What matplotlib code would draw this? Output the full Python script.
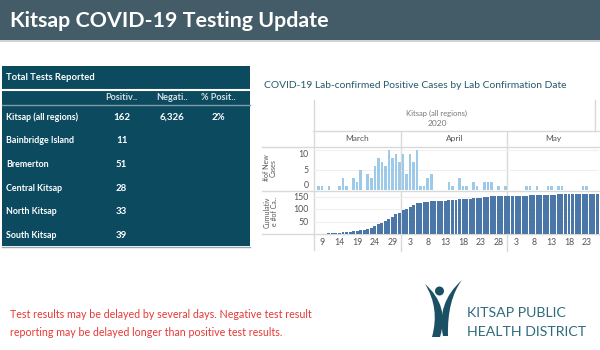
import numpy as np
import pandas as pd
import matplotlib
matplotlib.use('Agg')
import matplotlib.pyplot as plt
from matplotlib.patches import Rectangle, Circle, PathPatch
from matplotlib.path import Path

plt.rcParams['font.family'] = ['Lato', 'DejaVu Sans']

# table values
regions = ['Kitsap (all regions)', 'Bainbridge Island', 'Bremerton',
           'Central Kitsap', 'North Kitsap', 'South Kitsap']
positives = ['162', '11', '51', '28', '33', '39']
negatives = ['6,326', '', '', '', '', '']
pct_pos = ['2%', '', '', '', '', '']
col_heads = ['Positiv..', 'Negati..', '% Posit..']

# daily lab-confirmed positives, one per day from 2020-03-07
new_cases = [0, 1, 1, 0, 1, 0, 0, 1, 3, 1,
             0, 3, 2, 5, 0, 4, 3, 6, 8, 7,
             6, 10, 8, 9, 7, 9, 4, 9, 7, 10,
             1, 1, 3, 4, 0, 0, 0, 0, 2, 1,
             0, 3, 1, 1, 0, 2, 1, 0, 2, 2,
             2, 0, 1, 0, 1, 0, 0, 0, 0, 0,
             1, 1, 0, 1, 0, 0, 1, 1, 0, 1,
             1, 0, 0, 0, 0, 0, 1, 1, 0, 0, 0]
start_date = '2020-03-07'

dates = pd.date_range(start_date, periods=len(new_cases))
cum_cases = np.cumsum(new_cases)
x = np.arange(len(new_cases))

W, H = 600, 350
fig = plt.figure(figsize=(6, 3.5), dpi=100)


def rect(x0, y0, x1, y1):
    return [x0 / W, 1 - y1 / H, (x1 - x0) / W, (y1 - y0) / H]


# overlay in pixel coordinates for the page decorations
ov = fig.add_axes([0, 0, 1, 1], zorder=0)
ov.set_xlim(0, W)
ov.set_ylim(H, 0)
ov.axis('off')

# header band
ov.add_patch(Rectangle((0, 0), W, 40, color='#435c67', lw=0))
ov.plot([0, W], [41, 41], color='#c5cdd0', lw=1.2)
ov.text(10, 21, 'Kitsap COVID-19 Testing Update', color='white',
        fontsize=15.4, fontweight='bold', va='center', ha='left')

# table panel
tcol = '#0c4a5f'
ov.add_patch(Rectangle((2, 66), 248, 180, color=tcol, lw=0))
ov.text(6, 77, 'Total Tests Reported', color='white', fontsize=6.8,
        fontweight='bold', va='center')
ov.plot([2, 250], [89.5, 89.5], color='white', lw=1.5)
col_x = [121.7, 171.7, 218]
for cx, head in zip(col_x, col_heads):
    ov.text(cx, 97, head, color='#d5e0e5', fontsize=6.6, fontweight='bold',
            ha='center', va='center')
ov.plot([2, 250], [104.5, 104.5], color='#7f9ba6', lw=1)
for k, name in enumerate(regions):
    ry = 117 + 23.7 * k
    ov.text(6, ry, name, color='white', fontsize=6.4, fontweight='bold', va='center')
    for cx, val in zip(col_x, [positives[k], negatives[k], pct_pos[k]]):
        ov.text(cx, ry, val, color='white', fontsize=7, fontweight='bold',
                ha='center', va='center')
ov.plot([2, 250], [246.5, 246.5], color='#9aa9ae', lw=1)

# chart texts
ov.text(264, 85, 'COVID-19 Lab-confirmed Positive Cases by Lab Confirmation Date',
        color='#24596b', fontsize=7.35, va='center')
ov.text(437, 113, 'Kitsap (all regions)', color='#777777', fontsize=5.5,
        ha='center', va='center')
ov.text(437, 124, '2020', color='#777777', fontsize=6, ha='center', va='center')
ov.text(270, 168, '#of New\nCases', color='#555555', fontsize=5, rotation=90,
        ha='center', va='center', linespacing=1.0)
ov.text(271, 212, 'Cumulativ\ne #of Ca..', color='#555555', fontsize=5,
        rotation=90, ha='center', va='center', linespacing=1.0)
gl = '#d9d9d9'
ov.plot([313.5, 313.5], [100, 250], color=gl, lw=1)
ov.plot([595, 595], [100, 131], color=gl, lw=1)
ov.plot([313, 600], [131, 131], color=gl, lw=1)
for yy in (147, 191, 234):
    ov.plot([262, 600], [yy, yy], color=gl, lw=1)

# footnote
ov.text(10, 315, 'Test results may be delayed by several days. Negative test result',
        color='#e53935', fontsize=7.65, va='center')
ov.text(10, 333, 'reporting may be delayed longer than positive test results.',
        color='#e53935', fontsize=7.65, va='center')

# logo
lc = '#1b5064'
ov.add_patch(Circle((439.5, 291), 4.5, color=lc, lw=0))
left = Path([(425, 284), (450, 306), (440, 337), (432, 337), (440, 308), (425, 284)],
            [Path.MOVETO, Path.CURVE3, Path.CURVE3, Path.LINETO, Path.CURVE3, Path.CURVE3])
right = Path([(462, 280), (436, 303), (443, 336), (448, 336), (447, 300), (462, 280)],
             [Path.MOVETO, Path.CURVE3, Path.CURVE3, Path.LINETO, Path.CURVE3, Path.CURVE3])
ov.add_patch(PathPatch(left, color=lc, lw=0))
ov.add_patch(PathPatch(right, color=lc, lw=0))
ov.text(467, 313, 'KITSAP PUBLIC', color='#2e6b7d', fontsize=10.2, va='center')
ov.text(467, 332, 'HEALTH DISTRICT', color='#2e6b7d', fontsize=10.2, va='center')

# month header row
bounds = [i - 0.5 for i in range(1, len(dates)) if dates[i].day == 1]
xlim = (-0.5, len(new_cases) - 0.5)
axm = fig.add_axes(rect(313, 131, 599, 147), zorder=1)
axm.set_xlim(*xlim)
axm.set_ylim(0, 1)
axm.axis('off')
edges = [xlim[0]] + bounds + [xlim[1]]
for a, b in zip(edges[:-1], edges[1:]):
    axm.text((a + b) / 2, 0.5, dates[int(a + 0.5)].strftime('%B'),
             color='#555555', fontsize=6, ha='center', va='center')
for b in bounds:
    axm.axvline(b, color=gl, lw=1)

# daily bars
ax1 = fig.add_axes(rect(313, 147, 599, 190), zorder=1)
ax1.bar(x, new_cases, width=0.72, color='#9ecae9', zorder=2)
ax1.set_xlim(*xlim)
ax1.set_ylim(0, 10.75)
ax1.set_yticks([0, 5, 10])
ax1.set_xticks([])
ax1.grid(axis='y', color='#efefef', lw=0.8)

# cumulative bars
ax2 = fig.add_axes(rect(313, 191.5, 599, 234), zorder=1)
ax2.bar(x, cum_cases, width=0.84, color='#4a76a8', zorder=2)
ax2.set_xlim(*xlim)
ax2.set_ylim(0, 170)
ax2.set_yticks([50, 100, 150])
ax2.grid(axis='y', color='#efefef', lw=0.8)
ax2.set_xticks(x[2::5])
ax2.set_xticklabels([str(d.day) for d in dates[2::5]])

for ax in (ax1, ax2):
    ax.patch.set_alpha(0)
    for s in ax.spines.values():
        s.set_visible(False)
    ax.tick_params(length=0, labelsize=6.3, colors='#555555', pad=3)
    for b in bounds:
        ax.axvline(b, color=gl, lw=1, zorder=1)
for b in bounds:
    ax2.axvline(b, ymin=-0.4, ymax=0, color=gl, lw=1, clip_on=False)

# keep the zero label of the daily panel inside its band
ax1.get_yticklabels()[0].set_va('bottom')
ax1.get_yticklabels()[-1].set_va('top')

fig.savefig('out.png', dpi=100)
